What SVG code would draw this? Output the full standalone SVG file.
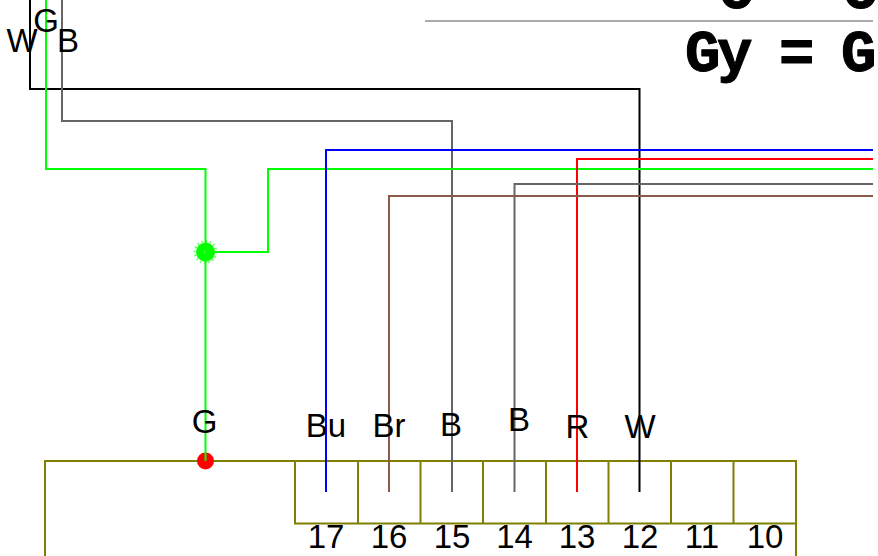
<svg xmlns="http://www.w3.org/2000/svg" width="878" height="556" viewBox="0 0 878 556" style="display:block">
<style>
.w{fill:none;stroke-width:2}
.t{font-family:"Liberation Sans",Arial,sans-serif;font-size:33px;fill:#000;text-anchor:middle}
.m{font-family:"Liberation Mono","Courier New",monospace;font-size:59px;font-weight:bold;fill:#000;stroke:#000;stroke-width:1;stroke-linejoin:round}
.o{fill:none;stroke:#808000;stroke-width:2}
</style>
<rect width="878" height="556" fill="#fff"/>
<g id="formula">
<text class="m" x="719 843" y="8">OO</text>
<line x1="425" y1="21" x2="873" y2="21" stroke="#aaa" stroke-width="2"/>
<text class="m" x="685 717 779 841" y="71">Gy=G</text>
</g>
<g id="connector-block">
<path class="o" d="M45 556V461H796V556"/>
<path class="o" d="M295 461V523.500H796M358 461V523.500M420.500 461V523.500M483 461V523.500M546 461V523.500M608.500 461V523.500M671 461V523.500M733.500 461V523.500"/>
<g class="t">
<text x="326" y="548">17</text><text x="389" y="548">16</text><text x="452" y="548">15</text><text x="514.500" y="548">14</text><text x="577" y="548">13</text><text x="640" y="548">12</text><text x="702" y="548">11</text><text x="765" y="548">10</text>
</g>
</g>
<g id="ground-pin"><circle cx="205.500" cy="461" r="8.500" fill="#f00"/></g>
<g id="splice"><circle cx="205.500" cy="252" r="9.500" fill="#0f0"/><circle cx="205.500" cy="252" r="10.500" fill="none" stroke="#6f6" stroke-width="3" stroke-dasharray="1.300 2.800"/><circle cx="205.500" cy="252" r="1.800" fill="#9f9"/></g>
<g id="connectors">
<path class="w" stroke="#000" d="M30 0V89H639.500V492"/>
<path class="w" stroke="#666" d="M62 0V121H452V492"/>
<path class="w" stroke="#0f0" d="M46 0V169H205.500V461"/>
<path class="w" stroke="#0f0" d="M205.500 252H268V169H873"/>
<path class="w" stroke="#00f" d="M873 150H326V492"/>
<path class="w" stroke="#f00" d="M873 159H577V492"/>
<path class="w" stroke="#666" d="M873 184H514.500V492"/>
<path class="w" stroke="#8b5a4b" d="M873 196H389V492"/>
</g>
<g id="labels">
<text class="t" x="22" y="52">W</text><text class="t" x="46" y="32">G</text><text class="t" x="68" y="52">B</text>
<text class="t" x="204.500" y="433">G</text><text class="t" x="326" y="437">Bu</text><text class="t" x="389" y="437">Br</text><text class="t" x="451" y="436">B</text><text class="t" x="519" y="431">B</text><text class="t" x="577.500" y="438">R</text><text class="t" x="640" y="438">W</text>
</g>
</svg>
